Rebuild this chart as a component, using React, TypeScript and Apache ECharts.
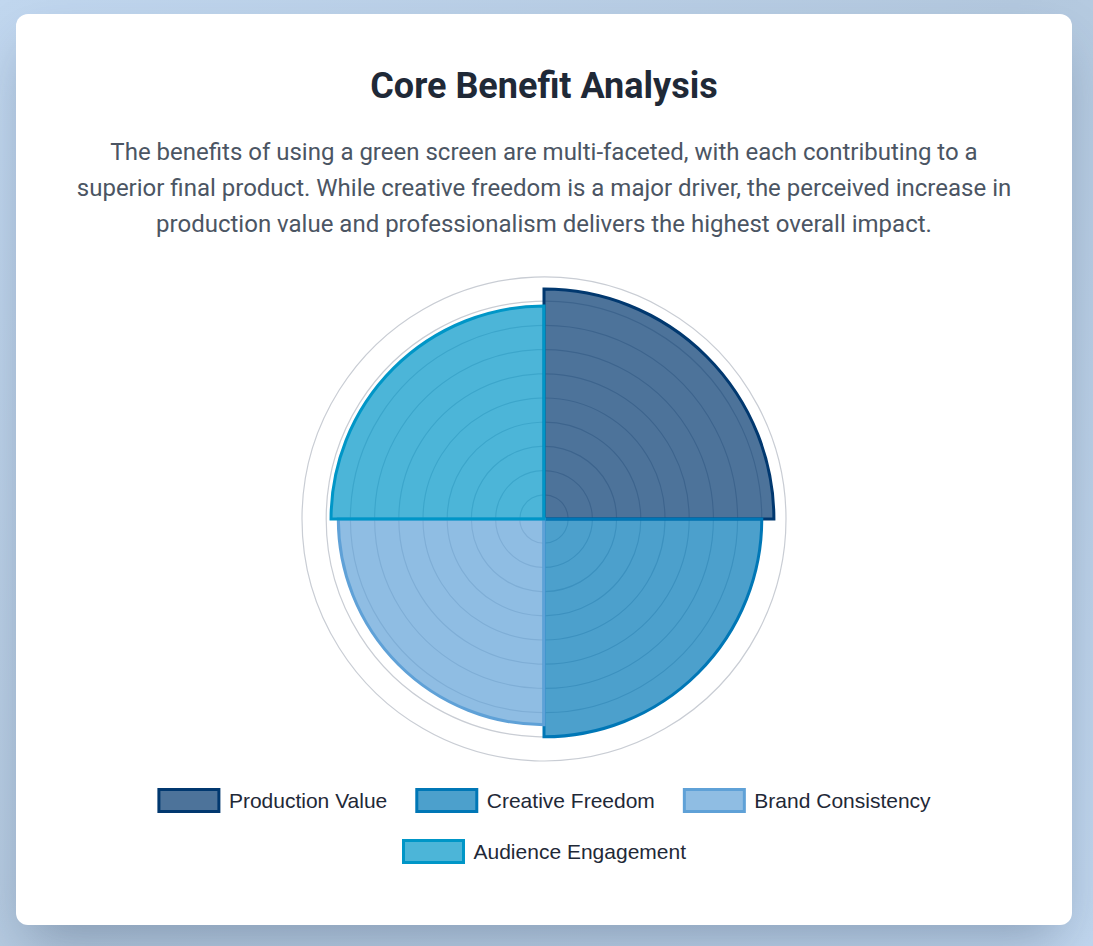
import React, { useEffect, useRef } from "react";
import * as echarts from "echarts";

const titleText = "Core Benefit Analysis";
const descriptionLines = [
  "The benefits of using a green screen are multi-faceted, with each contributing to a",
  "superior final product. While creative freedom is a major driver, the perceived increase in",
  "production value and professionalism delivers the highest overall impact.",
];
const categories = [
  "Production Value",
  "Creative Freedom",
  "Brand Consistency",
  "Audience Engagement",
];
const values = [95, 90, 85, 88];
const borderColors = ["#01386f", "#0077b6", "#5fa1d7", "#0096c7"];
const fillColors = [
  "rgba(1,56,111,0.7)",
  "rgba(0,119,182,0.7)",
  "rgba(95,161,215,0.7)",
  "rgba(0,150,199,0.7)",
];
const radiusMax = 100;
const radiusStep = 10;

const W = 1056;
const H = 911;

export default function App() {
  const ref = useRef<HTMLDivElement>(null);

  useEffect(() => {
    if (!ref.current) return;
    const chart = echarts.init(ref.current, undefined, { renderer: "svg" });
    const series = categories.map((name, i) => ({
      type: "bar",
      coordinateSystem: "polar",
      name,
      data: categories.map((_, j) => (j === i ? values[i] : "-")),
      barGap: "-100%",
      barCategoryGap: "0%",
      itemStyle: {
        color: fillColors[i],
        borderColor: borderColors[i],
        borderWidth: 3,
      },
      emphasis: { disabled: true },
    }));
    const legendCommon = {
      left: "center",
      orient: "horizontal",
      itemWidth: 60,
      itemHeight: 22,
      itemGap: 28,
      icon: "rect",
      selectedMode: false,
      itemStyle: { borderWidth: 3 },
      textStyle: {
        fontFamily: "'Liberation Sans', Arial, sans-serif",
        fontSize: 21,
        color: "#1f2937",
        padding: [0, 0, 0, 5],
      },
    };
    chart.setOption({
      animation: false,
      polar: { center: [528, 505], radius: 242 },
      angleAxis: {
        type: "category",
        data: categories,
        startAngle: 90,
        clockwise: true,
        axisLine: { show: false },
        axisTick: { show: false },
        axisLabel: { show: false },
        splitLine: { show: false },
      },
      radiusAxis: {
        type: "value",
        min: 0,
        max: radiusMax,
        interval: radiusStep,
        axisLine: { show: false },
        axisTick: { show: false },
        axisLabel: { show: false },
        splitLine: { show: true, lineStyle: { color: "#c9cdd4", width: 1.2 } },
      },
      legend: [
        { ...legendCommon, top: 769, data: categories.slice(0, 3) },
        { ...legendCommon, top: 820, data: categories.slice(3) },
      ],
      graphic: [
        {
          type: "text",
          x: 528,
          y: 72,
          style: {
            text: titleText,
            fontFamily: "Roboto, sans-serif",
            fontWeight: "bold",
            fontSize: 36,
            fill: "#1f2937",
            textAlign: "center",
            textVerticalAlign: "middle",
          },
        },
        ...descriptionLines.map((line, i) => ({
          type: "text",
          x: 528,
          y: 138 + i * 36,
          style: {
            text: line,
            fontFamily: "Roboto, sans-serif",
            fontSize: 24,
            fill: "#4b5563",
            textAlign: "center",
            textVerticalAlign: "middle",
          },
        })),
      ],
      series,
    });
    return () => chart.dispose();
  }, []);

  return (
    <div
      style={{
        position: "fixed",
        left: 0,
        top: 0,
        width: 1093,
        height: 946,
        background: "linear-gradient(135deg, #c1d7ef 0%, #b4c9df 50%, #c1d7ef 100%)",
        overflow: "hidden",
      }}
    >
      <div
        style={{
          position: "absolute",
          left: 16,
          top: 14,
          width: W,
          height: H,
          background: "#ffffff",
          borderRadius: 12,
          boxShadow: "0 25px 50px -12px rgba(40,60,90,0.35)",
        }}
      >
        <div ref={ref} style={{ width: W, height: H }} />
      </div>
    </div>
  );
}
